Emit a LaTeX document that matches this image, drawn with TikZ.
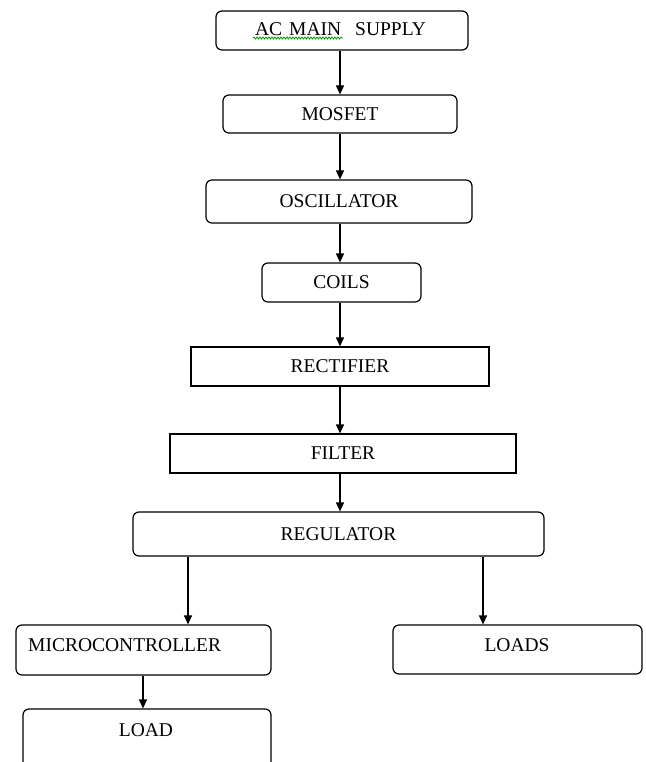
\documentclass[tikz,border=0pt]{standalone}
\usepackage{fontspec}
\setmainfont{Liberation Serif}
\usetikzlibrary{arrows.meta,decorations.pathmorphing}
\begin{document}
\begin{tikzpicture}[x=1pt,y=-1pt,
  rbox/.style={draw, line width=1.2pt, rounded corners=6pt, inner sep=0pt, font=\fontsize{19.5}{22}\selectfont},
  sbox/.style={draw, line width=1.2pt, inner sep=0pt, font=\fontsize{19.5}{22}\selectfont},
  txt/.style={inner sep=0pt, font=\fontsize{19.5}{22}\selectfont},
  arr/.style={line width=1.2pt, -{Triangle[length=9pt,width=8pt]}},
  squig/.style={draw=green!60!black, line width=0.8pt, decorate, decoration={snake, amplitude=1pt, segment length=3pt}}]
\useasboundingbox (0,0) rectangle (645,762);
\clip (0,0) rectangle (645,762);
\fill[white] (0,0) rectangle (645,762);
\coordinate (spine) at (340,0);
\node[rbox, minimum width=252pt, minimum height=39pt] (ac) at (342,30.5) {};
\node[txt] (act) at (340.5,29) {AC\hspace{7pt}MAIN\hspace{14pt}SUPPLY};
\node[rbox, minimum width=234pt, minimum height=38pt] (mos) at (340,114) {MOSFET};
\node[rbox, minimum width=266pt, minimum height=43pt] (osc) at (339,201.5) {OSCILLATOR};
\node[rbox, minimum width=159pt, minimum height=39pt] (coil) at (341.5,282.5) {COILS};
\node[sbox, minimum width=298pt, minimum height=39pt] (rect) at (340,366.5) {RECTIFIER};
\node[sbox, minimum width=346pt, minimum height=39pt] (filt) at (343,453.5) {FILTER};
\node[rbox, minimum width=411pt, minimum height=44pt] (reg) at (338.5,534) {REGULATOR};
\node[rbox, minimum width=255pt, minimum height=50pt] (micro) at (143.5,650) {};
\node[txt, anchor=west] (microt) at (28,645) {MICROCONTROLLER};
\node[rbox, minimum width=249pt, minimum height=49pt] (loads) at (517.5,649.5) {};
\node[txt] (loadst) at (517,645) {LOADS};
\node[rbox, minimum width=248pt, minimum height=70pt] (load) at (147,744) {};
\node[txt] (loadt) at (146,730) {LOAD};
\coordinate (sq1) at (253,38);
\coordinate (sq2) at (343,38);
\draw[squig] (sq1) -- (sq2);
\draw[arr] (ac.south -| spine) -- (mos.north -| spine);
\draw[arr] (mos.south -| spine) -- (osc.north -| spine);
\draw[arr] (osc.south -| spine) -- (coil.north -| spine);
\draw[arr] (coil.south -| spine) -- (rect.north -| spine);
\draw[arr] (rect.south -| spine) -- (filt.north -| spine);
\draw[arr] (filt.south -| spine) -- (reg.north -| spine);
\coordinate (lx) at (188,0);
\coordinate (rx) at (483,0);
\coordinate (mx) at (143,0);
\draw[arr] (reg.south -| lx) -- (micro.north -| lx);
\draw[arr] (reg.south -| rx) -- (loads.north -| rx);
\draw[arr] (micro.south -| mx) -- (load.north -| mx);
\end{tikzpicture}
\end{document}
